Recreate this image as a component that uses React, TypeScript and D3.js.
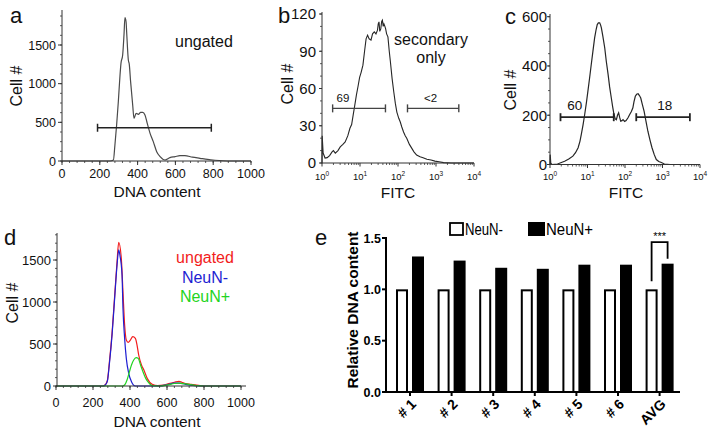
import React from 'react';
import * as d3 from 'd3';

const FONT = '"Liberation Sans", Arial, Helvetica, sans-serif';

// ---------- panel a ----------
const aDnaContent = [0, 254, 272, 280, 289, 298, 307, 312, 321, 328, 333, 339, 342, 351, 356, 363, 374, 381, 392, 404, 416, 427, 439, 451, 466, 483, 501, 519, 545, 571, 598, 624, 650, 690, 730, 770, 810, 850, 900, 1000];
const aCellCount = [0, 0, 13, 207, 466, 767, 1112, 1263, 1371, 1629, 1853, 1801, 1672, 1306, 1250, 1026, 724, 552, 617, 604, 630, 630, 595, 487, 358, 250, 121, 56, 13, 43, 56, 69, 70, 50, 35, 20, 10, 3, 0, 0];
const aGateRange = [188, 790];
const aGateLevel = 430;
const aXTicks = [0, 200, 400, 600, 800, 1000];
const aYTicks = [0, 500, 1000, 1500];

// ---------- panel b ----------
const bLogFitc = [0, 0.005, 0.03, 0.08, 0.136, 0.2, 0.265, 0.3, 0.35, 0.42, 0.48, 0.55, 0.61, 0.68, 0.735, 0.78, 0.82, 0.86, 0.905, 0.95, 0.99, 1.03, 1.077, 1.12, 1.16, 1.2, 1.24, 1.29, 1.33, 1.376, 1.42, 1.46, 1.48, 1.5, 1.52, 1.547, 1.57, 1.59, 1.61, 1.63, 1.655, 1.675, 1.7, 1.735, 1.77, 1.8, 1.845, 1.89, 1.93, 1.97, 2.02, 2.06, 2.1, 2.146, 2.19, 2.23, 2.3, 2.36, 2.42, 2.49, 2.58, 2.66, 2.76, 2.87, 2.97, 3.08, 3.2, 3.4, 4];
const bCellCount = [0, 22, 8, 4, 4.3, 6, 9, 10, 8, 10, 13, 15, 17, 22, 28, 31, 38.6, 46, 54.7, 62, 69, 73, 78.8, 90, 100, 103, 100, 99, 104, 105.6, 104, 107, 112, 113.7, 106, 108, 114, 115, 110, 112, 110, 108, 104, 101.6, 90, 81.5, 68, 57, 48, 41, 36, 33, 29, 25, 22, 20, 15, 12, 9, 6.4, 5, 4.3, 3, 2.4, 1.5, 1, 0.3, 0, 0];
const bYTicks = [0, 30, 60, 90, 120];
const bGateLabels = ['69', '<2'];
const bGateFrom = [0.28, 2.25];
const bGateTo = [1.67, 3.6];
const bGateLabelAt = [0.55, 2.86];
const bGateLevel = 44;

// ---------- panel c ----------
const cLogFitc = [0, 0.005, 0.02, 0.05, 0.2, 0.39, 0.5, 0.61, 0.68, 0.75, 0.8, 0.835, 0.88, 0.925, 0.97, 1.01, 1.055, 1.1, 1.145, 1.19, 1.23, 1.26, 1.29, 1.325, 1.35, 1.37, 1.41, 1.46, 1.5, 1.55, 1.59, 1.635, 1.67, 1.707, 1.74, 1.77, 1.8, 1.83, 1.86, 1.885, 1.92, 1.947, 1.99, 2.03, 2.08, 2.125, 2.17, 2.21, 2.24, 2.275, 2.31, 2.35, 2.385, 2.42, 2.46, 2.51, 2.56, 2.61, 2.665, 2.72, 2.78, 2.835, 2.9, 2.97, 3.05, 3.2, 4];
const cCellCount = [0, 40, 5, 0, 2, 13, 22, 34, 48, 68, 95, 122, 160, 203, 250, 297, 350, 406, 460, 514, 548, 568, 575, 575, 566, 555, 520, 473, 420, 365, 315, 270, 235, 203, 185, 182, 200, 210, 190, 176, 178, 182, 175, 178, 190, 203, 215, 230, 255, 277, 285, 287, 280, 270, 245, 216, 175, 135, 100, 68, 40, 20, 12, 8, 2, 0, 0];
const cYTicks = [0, 200, 400, 600];
const cGateLabels = ['60', '18'];
const cGateFrom = [0.28, 2.3];
const cGateTo = [1.7, 3.73];
const cGateLabelAt = [0.66, 3.06];
const cGateLevel = 192;

const logDecades = [0, 1, 2, 3, 4];

// ---------- panel d ----------
const dRedDna = [0, 255, 268, 278, 288, 303, 317, 330, 339, 353, 362, 371, 380, 390, 402, 415, 429, 438, 447, 462, 475, 493, 520, 550, 580, 610, 640, 665, 680, 700, 730, 760, 800, 1000];
const dRedCount = [0, 0, 20, 70, 270, 630, 1070, 1480, 1710, 1519, 1122, 726, 547, 520, 547, 587, 567, 488, 369, 250, 190, 91, 20, 5, 10, 30, 45, 55, 45, 30, 20, 10, 0, 0];
const dBlueDna = [0, 255, 268, 278, 288, 303, 317, 330, 339, 346, 357, 362, 371, 380, 393, 408, 429, 560, 600, 640, 665, 700, 750, 800, 1000];
const dBlueCount = [0, 0, 15, 60, 250, 607, 1043, 1440, 1620, 1550, 1321, 925, 567, 329, 151, 51, 0, 0, 15, 35, 35, 20, 5, 0, 0];
const dGreenDna = [0, 360, 372, 384, 397, 408, 420, 433, 444, 457, 470, 485, 504, 520, 560, 600, 640, 665, 700, 760, 800, 1000];
const dGreenCount = [0, 0, 15, 71, 170, 250, 309, 337, 330, 250, 170, 91, 32, 5, 0, 10, 30, 35, 25, 5, 0, 0];
const dLegend = ['ungated', 'NeuN-', 'NeuN+'];
const dColors = ['#f21c1c', '#1e1ed2', '#22d422'];
const dXTicks = [0, 200, 400, 600, 800, 1000];
const dYTicks = [0, 500, 1000, 1500];

// ---------- panel e ----------
const eCategories = ['# 1', '# 2', '# 3', '# 4', '# 5', '# 6', 'AVG'];
const eNeuNneg = [1, 1, 1, 1, 1, 1, 1];
const eNeuNpos = [1.32, 1.28, 1.21, 1.2, 1.24, 1.24, 1.25];
const eYTicks = [0, 0.5, 1.0, 1.5];
const eSeries = ['NeuN-', 'NeuN+'];

const AX = '#333';

function LeftAxis(props: any) {
  const { scale, x, top, ticks, minorStep, fontSize, labelRight, tickLen = 4, minorLen = 2, bold = false, fmt = (v: number) => String(v), sw = 1, color = AX } = props;
  const bottom = scale(0);
  const maxV = scale.invert(top);
  const minors = minorStep ? d3.range(0, maxV + 1e-9, minorStep) : [];
  return (
    <g>
      <line x1={x} x2={x} y1={bottom + sw / 2} y2={top} stroke={color} strokeWidth={sw} />
      {minors.map((m: number, i: number) => (
        <line key={'m' + i} x1={x - minorLen} x2={x} y1={scale(m)} y2={scale(m)} stroke={color} strokeWidth={sw * 0.8} />
      ))}
      {ticks.map((t: number, i: number) => (
        <g key={i}>
          <line x1={x - tickLen} x2={x} y1={scale(t)} y2={scale(t)} stroke={color} strokeWidth={sw} />
          <text x={labelRight} y={scale(t)} dy="0.36em" textAnchor="end" fontSize={fontSize} fontWeight={bold ? 'bold' : 'normal'} fontFamily={FONT} fill="#111">{fmt(t)}</text>
        </g>
      ))}
    </g>
  );
}

function BottomAxisLinear(props: any) {
  const { scale, y, x0, x1, ticks, minorStep, fontSize, labelY, tickLen = 4, minorLen = 2 } = props;
  const [d0, d1] = scale.domain();
  const minors = d3.range(d0, d1 + 1e-9, minorStep);
  return (
    <g>
      <line x1={x0} x2={x1} y1={y} y2={y} stroke={AX} strokeWidth={1} />
      {minors.map((m: number, i: number) => (
        <line key={'m' + i} x1={scale(m)} x2={scale(m)} y1={y} y2={y + minorLen} stroke={AX} strokeWidth={0.8} />
      ))}
      {ticks.map((t: number, i: number) => (
        <g key={i}>
          <line x1={scale(t)} x2={scale(t)} y1={y} y2={y + tickLen} stroke={AX} strokeWidth={1} />
          <text x={scale(t)} y={labelY} textAnchor="middle" fontSize={fontSize} fontFamily={FONT} fill="#111">{t}</text>
        </g>
      ))}
    </g>
  );
}

function BottomAxisLog(props: any) {
  const { scale, y, labelY } = props;
  const minors: number[] = [];
  for (let k = 0; k < 4; k++) for (let m = 2; m <= 9; m++) minors.push(m * Math.pow(10, k));
  const [d0, d1] = scale.domain();
  return (
    <g>
      <line x1={scale(d0)} x2={scale(d1)} y1={y} y2={y} stroke={AX} strokeWidth={1} />
      {minors.map((m, i) => (
        <line key={'m' + i} x1={scale(m)} x2={scale(m)} y1={y} y2={y + 2} stroke={AX} strokeWidth={0.8} />
      ))}
      {logDecades.map((k, i) => (
        <g key={i}>
          <line x1={scale(Math.pow(10, k))} x2={scale(Math.pow(10, k))} y1={y} y2={y + 3.5} stroke={AX} strokeWidth={1} />
          <text x={scale(Math.pow(10, k))} y={labelY} textAnchor="middle" fontFamily={FONT} fill="#111" fontSize={9.5}>
            <tspan>10</tspan>
            <tspan dy={-4.5} fontSize={6.5}>{k}</tspan>
          </text>
        </g>
      ))}
    </g>
  );
}

function Gate(props: any) {
  const { x1, x2, y, label, lx, ly, fontSize, sw = 1.4, color = '#222' } = props;
  return (
    <g>
      <line x1={x1} x2={x2} y1={y} y2={y} stroke={color} strokeWidth={sw} />
      <line x1={x1} x2={x1} y1={y - 4} y2={y + 4} stroke={color} strokeWidth={sw} />
      <line x1={x2} x2={x2} y1={y - 4} y2={y + 4} stroke={color} strokeWidth={sw} />
      {label ? <text x={lx} y={ly} textAnchor="middle" fontSize={fontSize} fontFamily={FONT} fill="#111">{label}</text> : null}
    </g>
  );
}

function PanelA() {
  const x = d3.scaleLinear().domain([0, 1000]).range([62, 251]);
  const y = d3.scaleLinear().domain([0, 1500]).range([161, 45]);
  const pts = aDnaContent.map((d, i) => [d, aCellCount[i]] as [number, number]);
  const line = d3.line<[number, number]>().x(d => x(d[0])).y(d => y(d[1])).curve(d3.curveMonotoneX);
  return (
    <g>
      <text x={10} y={23} fontSize={22} fontFamily={FONT} fill="#111">a</text>
      <path d={line(pts) || ''} fill="none" stroke="#4a4a4a" strokeWidth={1.2} />
      <Gate x1={x(aGateRange[0])} x2={x(aGateRange[1])} y={y(aGateLevel)} color="#222" sw={1.5} />
      <LeftAxis scale={y} x={62} top={10} ticks={aYTicks} minorStep={125} fontSize={12.5} labelRight={56} />
      <BottomAxisLinear scale={x} y={161} x0={62} x1={251} ticks={aXTicks} minorStep={40} fontSize={12.5} labelY={178} />
      <text x={175} y={47} fontSize={16} fontFamily={FONT} fill="#111">ungated</text>
      <text transform="translate(22,86) rotate(-90)" textAnchor="middle" fontSize={16} fontFamily={FONT} fill="#111">Cell #</text>
      <text x={157} y={197} textAnchor="middle" fontSize={15.5} fontFamily={FONT} fill="#111">DNA content</text>
    </g>
  );
}

function PanelB() {
  const x = d3.scaleLog().domain([1, 10000]).range([322, 474]);
  const y = d3.scaleLinear().domain([0, 120]).range([163, 14]);
  const pts = bLogFitc.map((l, i) => [Math.pow(10, l), bCellCount[i]] as [number, number]);
  const line = d3.line<[number, number]>().x(d => x(d[0])).y(d => y(d[1]));
  const gy = y(bGateLevel);
  return (
    <g>
      <text x={278} y={23} fontSize={22} fontFamily={FONT} fill="#111">b</text>
      <path d={line(pts) || ''} fill="none" stroke="#262626" strokeWidth={1.1} />
      {bGateLabels.map((lab, i) => (
        <Gate key={i} x1={x(Math.pow(10, bGateFrom[i]))} x2={x(Math.pow(10, bGateTo[i]))} y={gy} label={lab}
          lx={x(Math.pow(10, bGateLabelAt[i]))} ly={gy - 6} fontSize={11.5} color="#444" sw={1.4} />
      ))}
      <LeftAxis scale={y} x={322} top={12} ticks={bYTicks} minorStep={10} fontSize={15} labelRight={316} tickLen={3} />
      <BottomAxisLog scale={x} y={163} labelY={180} />
      <text x={431} y={45} textAnchor="middle" fontSize={16} fontFamily={FONT} fill="#111">secondary</text>
      <text x={431} y={63} textAnchor="middle" fontSize={16} fontFamily={FONT} fill="#111">only</text>
      <text transform="translate(293,84) rotate(-90)" textAnchor="middle" fontSize={16} fontFamily={FONT} fill="#111">Cell #</text>
      <text x={398} y={198} textAnchor="middle" fontSize={15.5} fontFamily={FONT} fill="#111">FITC</text>
    </g>
  );
}

function PanelC() {
  const x = d3.scaleLog().domain([1, 10000]).range([550, 700]);
  const y = d3.scaleLinear().domain([0, 600]).range([164.5, 16.7]);
  const pts = cLogFitc.map((l, i) => [Math.pow(10, l), cCellCount[i]] as [number, number]);
  const line = d3.line<[number, number]>().x(d => x(d[0])).y(d => y(d[1]));
  const gy = y(cGateLevel);
  return (
    <g>
      <text x={505} y={24} fontSize={22} fontFamily={FONT} fill="#111">c</text>
      <path d={line(pts) || ''} fill="none" stroke="#262626" strokeWidth={1.2} />
      {cGateLabels.map((lab, i) => (
        <Gate key={i} x1={x(Math.pow(10, cGateFrom[i]))} x2={x(Math.pow(10, cGateTo[i]))} y={gy} label={lab}
          lx={x(Math.pow(10, cGateLabelAt[i]))} ly={gy - 7} fontSize={13.5} color="#222" sw={1.8} />
      ))}
      <LeftAxis scale={y} x={550} top={14} ticks={cYTicks} minorStep={50} fontSize={15} labelRight={547} tickLen={3} />
      <BottomAxisLog scale={x} y={164.5} labelY={180} />
      <text transform="translate(516,90) rotate(-90)" textAnchor="middle" fontSize={16} fontFamily={FONT} fill="#111">Cell #</text>
      <text x={626} y={198} textAnchor="middle" fontSize={15.5} fontFamily={FONT} fill="#111">FITC</text>
    </g>
  );
}

function PanelD() {
  const x = d3.scaleLinear().domain([0, 1000]).range([56, 241]);
  const y = d3.scaleLinear().domain([0, 1500]).range([386, 260]);
  const line = d3.line<[number, number]>().x(d => x(d[0])).y(d => y(d[1])).curve(d3.curveMonotoneX);
  const series = [
    dRedDna.map((v, i) => [v, dRedCount[i]] as [number, number]),
    dBlueDna.map((v, i) => [v, dBlueCount[i]] as [number, number]),
    dGreenDna.map((v, i) => [v, dGreenCount[i]] as [number, number]),
  ];
  return (
    <g>
      <text x={4} y={245} fontSize={22} fontFamily={FONT} fill="#111">d</text>
      {series.map((s, i) => (
        <path key={i} d={line(s) || ''} fill="none" stroke={dColors[i]} strokeWidth={1.2} />
      ))}
      <LeftAxis scale={y} x={57} top={233} ticks={dYTicks} minorStep={100} fontSize={13} labelRight={51} />
      <BottomAxisLinear scale={x} y={386} x0={57} x1={246} ticks={dXTicks} minorStep={40} fontSize={12.5} labelY={407} />
      {dLegend.map((t, i) => (
        <text key={i} x={205} y={263 + i * 19.5} textAnchor="middle" fontSize={16} fontFamily={FONT} fill={dColors[i]}>{t}</text>
      ))}
      <text transform="translate(18,303) rotate(-90)" textAnchor="middle" fontSize={16} fontFamily={FONT} fill="#111">Cell #</text>
      <text x={157} y={427} textAnchor="middle" fontSize={15.5} fontFamily={FONT} fill="#111">DNA content</text>
    </g>
  );
}

function PanelE() {
  const x = d3.scaleBand<string>().domain(eCategories).range([389.2, 680.4]).padding(0);
  const inner = d3.scaleBand<string>().domain(eSeries).range([-14, 14]).paddingInner(0.25);
  const y = d3.scaleLinear().domain([0, 1.5]).range([392, 238]);
  const bw = inner.bandwidth();
  const cx = (c: string) => (x(c) as number) + x.bandwidth() / 2;
  const last = eCategories[eCategories.length - 1];
  const li = eCategories.length - 1;
  const bl = cx(last) + (inner('NeuN-') as number) + bw / 2;
  const br = cx(last) + (inner('NeuN+') as number) + bw / 2;
  return (
    <g>
      <text x={315} y={245} fontSize={22} fontFamily={FONT} fill="#111">e</text>
      {eCategories.map((c, i) => (
        <g key={c}>
          <rect x={cx(c) + (inner('NeuN-') as number) + 1} y={y(eNeuNneg[i]) + 1} width={bw - 2} height={y(0) - y(eNeuNneg[i]) - 1}
            fill="#fff" stroke="#000" strokeWidth={2} />
          <rect x={cx(c) + (inner('NeuN+') as number)} y={y(eNeuNpos[i])} width={bw} height={y(0) - y(eNeuNpos[i])} fill="#000" />
          <line x1={cx(c)} x2={cx(c)} y1={392} y2={396} stroke="#000" strokeWidth={2} />
          <text transform={`translate(${cx(c) + 7},${405}) rotate(-45)`} textAnchor="end" fontSize={14} fontWeight="bold" fontFamily={FONT} fill="#000">{c}</text>
        </g>
      ))}
      <line x1={386} x2={680} y1={392} y2={392} stroke="#000" strokeWidth={2} />
      <line x1={386} x2={386} y1={393} y2={237} stroke="#000" strokeWidth={2} />
      {eYTicks.map((t, i) => (
        <g key={i}>
          <line x1={382} x2={386} y1={y(t)} y2={y(t)} stroke="#000" strokeWidth={2} />
          <text x={381} y={y(t)} dy="0.36em" textAnchor="end" fontSize={12.5} fontWeight="bold" fontFamily={FONT} fill="#000">{t.toFixed(1)}</text>
        </g>
      ))}
      <path d={`M${bl},${y(eNeuNneg[li]) - 8} V${y(1.46)} H${br} V${y(eNeuNpos[li]) - 5}`} fill="none" stroke="#000" strokeWidth={1.8} />
      <text x={(bl + br) / 2} y={240} textAnchor="middle" fontSize={11} fontFamily={FONT} fill="#000">***</text>
      <rect x={450} y={223} width={13} height={12} fill="#fff" stroke="#000" strokeWidth={1.8} />
      <text x={465} y={235} fontSize={16} fontFamily={FONT} fill="#000" textLength={38} lengthAdjust="spacingAndGlyphs">{eSeries[0]}</text>
      <rect x={528} y={222} width={17} height={14} fill="#000" />
      <text x={546} y={235} fontSize={16} fontFamily={FONT} fill="#000" textLength={47} lengthAdjust="spacingAndGlyphs">{eSeries[1]}</text>
      <text transform="translate(358,310) rotate(-90)" textAnchor="middle" fontSize={15.5} fontWeight="bold" fontFamily={FONT} fill="#000">Relative DNA content</text>
    </g>
  );
}

export default function App() {
  return (
    <svg width={714} height={434} viewBox="0 0 714 434" style={{ position: 'absolute', left: 0, top: 0, background: '#fff' }}>
      <rect x={0} y={0} width={714} height={434} fill="#fff" />
      <PanelA />
      <PanelB />
      <PanelC />
      <PanelD />
      <PanelE />
    </svg>
  );
}
